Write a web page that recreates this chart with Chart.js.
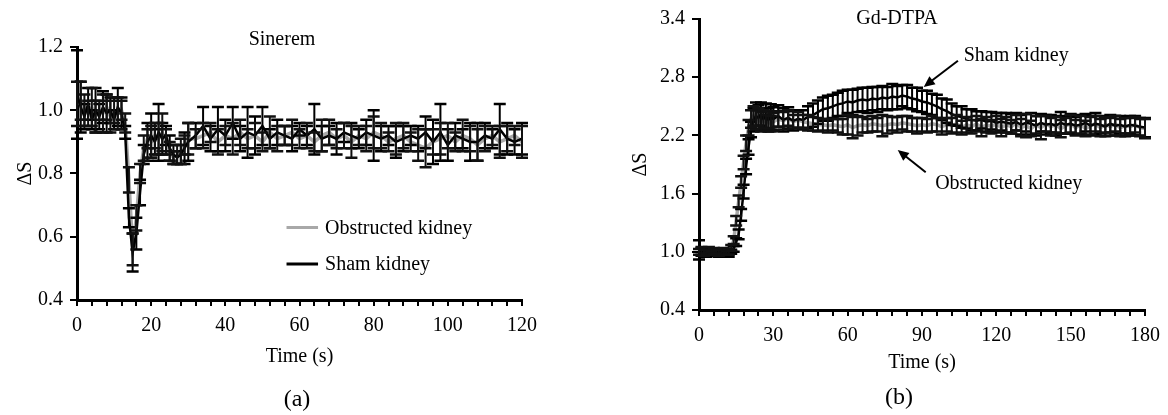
<!DOCTYPE html>
<html>
<head>
<meta charset="utf-8">
<script src="https://cdn.jsdelivr.net/npm/chart.js@4.4.1/dist/chart.umd.min.js"></script>
<style>
  body { margin: 0; background: #fff; width: 1168px; height: 415px; position: relative; overflow: hidden; font-family: "Liberation Serif", "Times New Roman", serif; }
  .panel { position: absolute; top: 0; height: 415px; }
  #panelA { left: 0; width: 560px; }
  #panelB { left: 580px; width: 588px; }
  .lbl { position: absolute; color: #000; font-size: 20px; white-space: nowrap; transform: translate(-50%, -50%); }
  .tag { font-size: 24px; }
</style>
</head>
<body>
<div class="panel" id="panelA"><canvas id="chartA" width="560" height="415"></canvas></div>
<div class="panel" id="panelB"><canvas id="chartB" width="588" height="415"></canvas></div>
<div class="lbl" style="left:282px;top:38px">Sinerem</div>
<div class="lbl" style="left:897px;top:17px">Gd-DTPA</div>
<div class="lbl tag" style="left:297px;top:398px">(a)</div>
<div class="lbl tag" style="left:899px;top:396px">(b)</div>
<script>
/* =========================
   Data: (a) Sinerem
========================= */
const sinTime = [
  0,1,2,3,4,5,6,7,8,9,10,11,12,13,14,15,16,17,18,19,20,21,22,23,24,25,26,27,28,29,30,
  32,34,36,38,40,42,44,46,48,50,52,54,56,58,60,62,64,66,68,70,72,74,76,78,80,82,84,86,88,90,
  92,94,96,98,100,102,104,106,108,110,112,114,116,118,120
];
const sinSham = [
  1.05,1.01,0.98,1.02,0.97,1.00,0.98,1.01,0.99,1.00,0.97,1.01,0.99,0.93,0.66,0.55,0.61,0.74,0.86,0.90,0.92,0.90,0.93,0.91,0.92,0.88,0.86,0.85,0.86,0.88,0.90,
  0.92,0.95,0.91,0.94,0.92,0.96,0.91,0.93,0.92,0.95,0.91,0.93,0.92,0.91,0.94,0.92,0.94,0.91,0.92,0.91,0.93,0.92,0.91,0.93,0.92,0.91,0.92,0.90,0.91,0.92,
  0.91,0.93,0.90,0.93,0.89,0.92,0.91,0.90,0.90,0.92,0.91,0.94,0.91,0.90,0.91
];
const sinShamErr = [
  0.14,0.08,0.04,0.05,0.03,0.07,0.04,0.05,0.06,0.04,0.03,0.06,0.05,0.02,0.03,0.06,0.05,0.04,0.03,0.06,0.07,0.04,0.09,0.05,0.03,0.04,0.03,0.02,0.03,0.05,0.06,
  0.04,0.06,0.04,0.07,0.05,0.05,0.04,0.08,0.06,0.06,0.03,0.04,0.03,0.04,0.02,0.03,0.08,0.04,0.03,0.05,0.03,0.04,0.03,0.04,0.08,0.04,0.03,0.05,0.04,0.03,
  0.04,0.05,0.07,0.09,0.05,0.04,0.03,0.06,0.06,0.04,0.03,0.08,0.05,0.04,0.05
];
const sinObs = [
  1.02,1.03,1.00,0.99,1.01,0.98,1.00,0.99,1.01,0.98,1.00,0.99,1.00,0.96,0.78,0.56,0.66,0.80,0.88,0.91,0.90,0.92,0.91,0.93,0.90,0.87,0.85,0.86,0.87,0.89,0.91,
  0.91,0.92,0.93,0.90,0.92,0.91,0.93,0.91,0.92,0.90,0.93,0.91,0.92,0.93,0.91,0.92,0.90,0.92,0.93,0.91,0.92,0.90,0.92,0.91,0.93,0.92,0.90,0.91,0.92,0.90,
  0.89,0.88,0.90,0.91,0.92,0.90,0.92,0.91,0.89,0.91,0.92,0.90,0.91,0.92,0.90
];
const sinObsErr = [
  0.07,0.06,0.05,0.04,0.06,0.05,0.03,0.06,0.04,0.05,0.04,0.05,0.03,0.03,0.04,0.05,0.04,0.03,0.04,0.03,0.05,0.04,0.05,0.06,0.04,0.03,0.02,0.03,0.04,0.03,0.05,
  0.03,0.04,0.03,0.04,0.03,0.05,0.04,0.03,0.04,0.03,0.05,0.04,0.03,0.04,0.03,0.04,0.03,0.05,0.04,0.03,0.04,0.05,0.03,0.04,0.05,0.04,0.03,0.05,0.04,0.03,
  0.05,0.06,0.04,0.05,0.04,0.03,0.05,0.04,0.05,0.04,0.03,0.05,0.04,0.03,0.05
];
const sinXLabels = [0, 20, 40, 60, 80, 100, 120];

/* =========================
   Data: (b) Gd-DTPA
========================= */
const gdTime = [
  0,1,2,3,4,5,6,7,8,9,10,11,12,13,14,15,16,17,18,19,20,21,22,23,24,25,26,27,28,29,30,
  32,34,36,38,40,42,44,46,48,50,52,54,56,58,60,62,64,66,68,70,72,74,76,78,80,82,84,86,88,90,
  92,94,96,98,100,102,104,106,108,110,112,114,116,118,120,122,124,126,128,130,132,134,136,138,140,
  142,144,146,148,150,152,154,156,158,160,162,164,166,168,170,172,174,176,178,180
];
const gdSham = [
  1.02,1.00,1.01,0.99,1.00,0.98,1.00,0.99,0.98,0.99,0.98,0.99,0.98,1.00,1.03,1.10,1.18,1.38,1.62,1.88,2.08,2.26,2.36,2.40,2.38,2.42,2.37,2.40,2.36,2.39,2.37,
  2.40,2.36,2.38,2.35,2.37,2.36,2.39,2.41,2.44,2.47,2.48,2.50,2.52,2.53,2.55,2.54,2.56,2.57,2.56,2.58,2.57,2.59,2.58,2.60,2.59,2.61,2.60,2.58,2.57,2.55,
  2.54,2.52,2.50,2.47,2.45,2.42,2.40,2.39,2.37,2.36,2.35,2.36,2.34,2.35,2.33,2.34,2.33,2.32,2.34,2.31,2.33,2.32,2.30,2.33,2.31,
  2.32,2.30,2.33,2.31,2.32,2.30,2.31,2.33,2.30,2.32,2.31,2.29,2.32,2.30,2.31,2.29,2.31,2.30,2.29,2.28
];
const gdShamErr = [
  0.10,0.04,0.03,0.04,0.03,0.02,0.03,0.02,0.03,0.02,0.03,0.02,0.03,0.02,0.03,0.04,0.05,0.06,0.07,0.08,0.08,0.08,0.12,0.14,0.13,0.12,0.11,0.13,0.12,0.13,0.12,
  0.11,0.12,0.11,0.10,0.09,0.10,0.11,0.12,0.12,0.12,0.13,0.12,0.12,0.13,0.12,0.13,0.12,0.12,0.13,0.12,0.13,0.12,0.12,0.13,0.12,0.11,0.12,0.11,0.12,0.11,
  0.12,0.11,0.12,0.11,0.12,0.11,0.10,0.11,0.10,0.11,0.10,0.09,0.10,0.09,0.10,0.09,0.10,0.10,0.09,0.10,0.09,0.11,0.10,0.09,0.10,
  0.09,0.10,0.11,0.09,0.10,0.09,0.10,0.09,0.10,0.11,0.09,0.10,0.09,0.10,0.09,0.10,0.09,0.10,0.09,0.10
];
const gdObs = [
  1.00,1.01,0.99,1.00,1.02,0.99,1.01,1.00,0.99,1.00,1.01,0.99,1.00,1.04,1.12,1.32,1.52,1.72,1.92,2.12,2.28,2.37,2.40,2.36,2.39,2.34,2.37,2.33,2.36,2.32,2.34,
  2.37,2.35,2.38,2.34,2.36,2.34,2.33,2.32,2.31,2.31,2.30,2.31,2.30,2.29,2.31,2.28,2.30,2.31,2.30,2.32,2.31,2.30,2.31,2.32,2.31,2.33,2.32,2.31,2.30,2.31,
  2.30,2.32,2.31,2.29,2.31,2.30,2.32,2.28,2.31,2.29,2.32,2.28,2.31,2.29,2.32,2.28,2.31,2.29,2.33,2.28,2.30,2.27,2.31,2.28,2.32,
  2.29,2.31,2.27,2.30,2.32,2.28,2.31,2.27,2.30,2.32,2.28,2.31,2.29,2.32,2.28,2.30,2.29,2.31,2.28,2.27
];
const gdObsErr = [
  0.03,0.04,0.03,0.02,0.03,0.02,0.03,0.02,0.03,0.02,0.03,0.02,0.03,0.03,0.04,0.05,0.06,0.06,0.07,0.08,0.08,0.09,0.10,0.10,0.09,0.10,0.09,0.08,0.09,0.08,0.09,
  0.08,0.09,0.08,0.07,0.08,0.07,0.08,0.07,0.07,0.06,0.07,0.06,0.07,0.08,0.10,0.11,0.10,0.08,0.07,0.08,0.07,0.11,0.09,0.07,0.08,0.07,0.08,0.07,0.08,0.07,
  0.07,0.08,0.07,0.08,0.07,0.08,0.09,0.07,0.08,0.07,0.08,0.09,0.08,0.07,0.08,0.09,0.08,0.07,0.08,0.09,0.12,0.08,0.09,0.12,0.08,
  0.09,0.08,0.09,0.08,0.09,0.08,0.09,0.08,0.09,0.08,0.09,0.08,0.09,0.08,0.09,0.08,0.09,0.08,0.09,0.10
];
const gdXLabels = [0, 30, 60, 90, 120, 150, 180];

const FONT = "'Liberation Serif', 'Times New Roman', serif";
const SHAM_COLOR = "#000000";
const OBS_COLOR = "#a8a8a8";

/* =========================
   Error bar plugin (drawn on top, like Excel)
========================= */
const errorBarPlugin = {
  id: "errorBars",
  afterDatasetsDraw(chart) {
    const ctx = chart.ctx;
    const xs = chart.scales.x;
    const ys = chart.scales.y;
    ctx.save();
    chart.data.datasets.forEach(ds => {
      if (!ds.errors) return;
      ctx.strokeStyle = ds.errorColor || "#000";
      ds.data.forEach((p, i) => {
        const e = ds.errors[i];
        const px = xs.getPixelForValue(p.x);
        const top = ys.getPixelForValue(p.y + e);
        const bot = ys.getPixelForValue(p.y - e);
        ctx.lineWidth = 2;
        ctx.beginPath();
        ctx.moveTo(px, top);
        ctx.lineTo(px, bot);
        ctx.stroke();
        ctx.lineWidth = 2.5;
        ctx.beginPath();
        ctx.moveTo(px - 6, top);
        ctx.lineTo(px + 6, top);
        ctx.moveTo(px - 6, bot);
        ctx.lineTo(px + 6, bot);
        ctx.stroke();
      });
    });
    ctx.restore();
  }
};

/* =========================
   Inside legend for (a)
========================= */
const insideLegendPlugin = {
  id: "insideLegend",
  afterDraw(chart, args, opts) {
    if (!opts.items) return;
    const ctx = chart.ctx;
    const xs = chart.scales.x;
    const ys = chart.scales.y;
    ctx.save();
    ctx.font = "20px " + FONT;
    ctx.textBaseline = "middle";
    ctx.textAlign = "left";
    opts.items.forEach(item => {
      const ds = chart.data.datasets[item.dataset];
      const x0 = xs.getPixelForValue(opts.lineFrom);
      const x1 = xs.getPixelForValue(opts.lineTo);
      const y = ys.getPixelForValue(item.y);
      ctx.strokeStyle = ds.borderColor;
      ctx.lineWidth = 3;
      ctx.beginPath();
      ctx.moveTo(x0, y);
      ctx.lineTo(x1, y);
      ctx.stroke();
      ctx.fillStyle = "#000";
      ctx.fillText(ds.label, x1 + 7, y + 1);
    });
    ctx.restore();
  }
};

/* =========================
   Arrow annotations for (b)
========================= */
const arrowNotePlugin = {
  id: "arrowNotes",
  afterDraw(chart, args, opts) {
    if (!opts.notes) return;
    const ctx = chart.ctx;
    const xs = chart.scales.x;
    const ys = chart.scales.y;
    ctx.save();
    ctx.font = "20px " + FONT;
    ctx.textBaseline = "middle";
    ctx.textAlign = "center";
    ctx.fillStyle = "#000";
    ctx.strokeStyle = "#000";
    opts.notes.forEach(n => {
      ctx.fillText(n.text, xs.getPixelForValue(n.x), ys.getPixelForValue(n.y));
      const ax = xs.getPixelForValue(n.from[0]);
      const ay = ys.getPixelForValue(n.from[1]);
      const bx = xs.getPixelForValue(n.to[0]);
      const by = ys.getPixelForValue(n.to[1]);
      const ang = Math.atan2(by - ay, bx - ax);
      const hl = 11, hw = 5;
      ctx.lineWidth = 2;
      ctx.beginPath();
      ctx.moveTo(ax, ay);
      ctx.lineTo(bx - Math.cos(ang) * hl * 0.8, by - Math.sin(ang) * hl * 0.8);
      ctx.stroke();
      ctx.beginPath();
      ctx.moveTo(bx, by);
      ctx.lineTo(bx - Math.cos(ang) * hl - Math.sin(ang) * hw, by - Math.sin(ang) * hl + Math.cos(ang) * hw);
      ctx.lineTo(bx - Math.cos(ang) * hl + Math.sin(ang) * hw, by - Math.sin(ang) * hl - Math.cos(ang) * hw);
      ctx.closePath();
      ctx.fill();
    });
    ctx.restore();
  }
};

/* =========================
   Helpers
========================= */
function toPoints(times, values) {
  return times.map((t, i) => ({ x: t, y: values[i] }));
}

function axisCommon() {
  return {
    type: "linear",
    border: { display: true, color: "#000", width: 3 },
    grid: { display: true, drawOnChartArea: false, drawTicks: true, color: "#000", lineWidth: 2 },
    ticks: { color: "#000", font: { family: FONT, size: 20 }, autoSkip: false, maxRotation: 0 }
  };
}

function buildChart(canvasId, cfg) {
  const xAxis = axisCommon();
  xAxis.min = cfg.xMin;
  xAxis.max = cfg.xMax;
  xAxis.grid.tickLength = 6;
  xAxis.ticks.stepSize = cfg.xMinorStep;
  xAxis.ticks.padding = 8;
  xAxis.ticks.callback = v => (cfg.xLabels.includes(v) ? String(v) : "");
  xAxis.title = { display: true, text: "Time (s)", color: "#000", font: { family: FONT, size: 20 }, padding: { top: 4, bottom: 4 } };
  xAxis.afterFit = s => { s.height = cfg.xHeight; };

  const yAxis = axisCommon();
  yAxis.min = cfg.yMin;
  yAxis.max = cfg.yMax;
  yAxis.grid.tickLength = 7;
  yAxis.ticks.stepSize = cfg.yStep;
  yAxis.ticks.padding = 7;
  yAxis.ticks.callback = v => v.toFixed(1);
  yAxis.title = { display: true, text: "\u0394S", color: "#000", font: { family: FONT, size: 20 }, padding: { top: 4, bottom: 4 } };
  yAxis.afterFit = s => { s.width = cfg.yWidth; };

  return new Chart(document.getElementById(canvasId), {
    type: "line",
    data: {
      datasets: [
        {
          label: "Sham kidney",
          data: toPoints(cfg.time, cfg.sham),
          errors: cfg.shamErr,
          borderColor: SHAM_COLOR,
          borderWidth: 2.5,
          pointRadius: 0,
          tension: 0,
          fill: false
        },
        {
          label: "Obstructed kidney",
          data: toPoints(cfg.time, cfg.obs),
          errors: cfg.obsErr,
          errorColor: "#111",
          borderColor: OBS_COLOR,
          borderWidth: 3.5,
          pointRadius: 0,
          tension: 0,
          fill: false
        }
      ]
    },
    options: {
      responsive: false,
      animation: false,
      layout: { padding: cfg.padding },
      scales: { x: xAxis, y: yAxis },
      plugins: {
        legend: { display: false },
        tooltip: { enabled: false },
        insideLegend: cfg.legend || {},
        arrowNotes: cfg.notes || {}
      }
    },
    plugins: [errorBarPlugin, insideLegendPlugin, arrowNotePlugin]
  });
}

/* =========================
   (a) Sinerem
========================= */
buildChart("chartA", {
  time: sinTime, sham: sinSham, shamErr: sinShamErr, obs: sinObs, obsErr: sinObsErr,
  xMin: 0, xMax: 120, xMinorStep: 4, xLabels: sinXLabels,
  yMin: 0.4, yMax: 1.2, yStep: 0.2,
  padding: { left: 10, right: 38, top: 47, bottom: 42 },
  yWidth: 67, xHeight: 73,
  legend: {
    lineFrom: 56.5, lineTo: 65,
    items: [ { dataset: 1, y: 0.629 }, { dataset: 0, y: 0.514 } ]
  }
});

/* =========================
   (b) Gd-DTPA
========================= */
buildChart("chartB", {
  time: gdTime, sham: gdSham, shamErr: gdShamErr, obs: gdObs, obsErr: gdObsErr,
  xMin: 0, xMax: 180, xMinorStep: 6, xLabels: gdXLabels,
  yMin: 0.4, yMax: 3.4, yStep: 0.6,
  padding: { left: 45, right: 22, top: 14, bottom: 36 },
  yWidth: 74, xHeight: 69,
  notes: {
    notes: [
      { text: "Sham kidney", x: 128, y: 3.02, from: [104.5, 2.97], to: [90.7, 2.70] },
      { text: "Obstructed kidney", x: 125, y: 1.70, from: [91.5, 1.82], to: [80.2, 2.05] }
    ]
  }
});
</script>
</body>
</html>
